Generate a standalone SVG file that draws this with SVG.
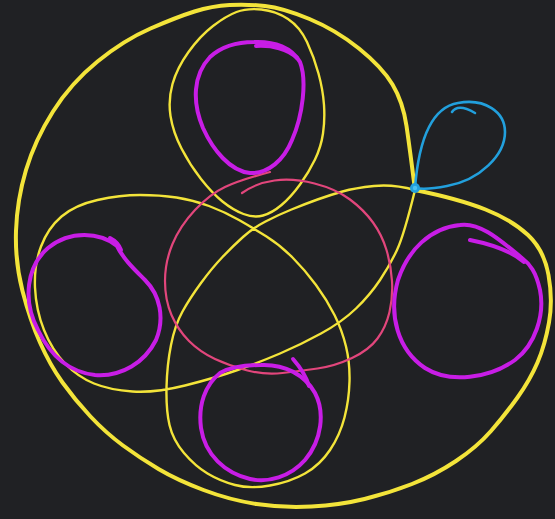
<svg xmlns="http://www.w3.org/2000/svg" width="555" height="519" viewBox="0 0 555 519">
  <style>
    .y { fill: none; stroke: #f3e43a; stroke-linecap: round; stroke-linejoin: round; }
    .outer { stroke-width: 4; }
    .thin { stroke-width: 2.4; }
    .m { fill: none; stroke: #c81de6; stroke-width: 4; stroke-linecap: round; stroke-linejoin: round; }
    .r { fill: none; stroke: #e2467c; stroke-width: 2.2; stroke-linecap: round; }
    .b { fill: none; stroke: #22a0dd; stroke-width: 2.6; stroke-linecap: round; stroke-linejoin: round; }
  </style>
  <rect x="0" y="0" width="555" height="519" fill="#202124"/>

  <g id="outer-circle">
    <path class="y outer" d="M 415 190 Q 459 199 485.5 209.5 Q 512 220 528 235 Q 544 250 548.5 275 Q 553 300 549 322.5 Q 545 345 537.5 362.5 Q 530 380 517.5 397.5 Q 505 415 491 431 Q 477 447 456 461 Q 435 475 412 484 Q 389 493 364.5 499 Q 340 505 311.5 506.5 Q 283 508 256.5 504 Q 230 500 203.5 490 Q 177 480 158.5 469 Q 140 458 123 445.5 Q 106 433 90.5 416.5 Q 75 400 62.5 382.5 Q 50 365 40 342.5 Q 30 320 22.5 291 Q 15 262 16 231 Q 17 200 26 170 Q 35 140 53 111.5 Q 71 83 97.5 61.5 Q 124 40 150.5 28.5 Q 177 17 194.5 11.5 Q 212 6 229.5 5 Q 247 4 265 6 Q 283 8 309.5 19 Q 336 30 359 48.5 Q 382 67 392.5 84.5 Q 403 102 406.5 126 Q 410 150 415 190"/>
  </g>

  <g id="top-oval">
    <path class="y thin" d="M 236.5 12 Q 247 8 261.5 9.5 Q 276 11 288 19 Q 300 27 307 42 Q 314 57 318.5 73.5 Q 323 90 324 105 Q 325 120 323 133.5 Q 321 147 315 159.5 Q 309 172 300 184.5 Q 291 197 281.5 205 Q 272 213 263 215.5 Q 254 218 243.5 214 Q 233 210 222.5 201.5 Q 212 193 201 179 Q 190 165 181.5 148.5 Q 173 132 170.5 116 Q 168 100 172.5 84 Q 177 68 188.5 52 Q 200 36 213 26 Q 226 16 236.5 12 Z"/>
  </g>

  <g id="crossing-loop">
    <path class="y thin" d="M 415 190 Q 404 235 397 250 Q 390 265 380 280 Q 370 295 356 308.5 Q 342 322 321 333.5 Q 300 345 280 353.5 Q 260 362 237.5 370 Q 215 378 185 385.5 Q 155 393 132.5 391.5 Q 110 390 94 383.5 Q 78 377 65 363.5 Q 52 350 44 330 Q 36 310 35 287.5 Q 34 265 41 246.5 Q 48 228 61.5 216.5 Q 75 205 97.5 200 Q 120 195 140 195 Q 160 195 176.5 197.5 Q 193 200 209 206 Q 225 212 239 220 Q 253 228 266.5 236.5 Q 280 245 292.5 257.5 Q 305 270 316 285 Q 327 300 334.5 315 Q 342 330 346 346.5 Q 350 363 349.5 381.5 Q 349 400 344.5 417.5 Q 340 435 330 450 Q 320 465 305 473.5 Q 290 482 270 485.5 Q 250 489 235 485 Q 220 481 207.5 473.5 Q 195 466 184 453 Q 173 440 169.5 425 Q 166 410 166.5 387.5 Q 167 365 171 345 Q 175 325 182.5 311.5 Q 190 298 201 283 Q 212 268 222.5 257 Q 233 246 243 237 Q 253 228 265.5 221.5 Q 278 215 291.5 209.5 Q 305 204 317.5 199.5 Q 330 195 342.5 191.5 Q 355 188 374 186 Q 393 184 415 190"/>
  </g>

  <g id="center-circle">
    <path class="r" d="M 242 193 Q 256 183 274.5 180.5 Q 293 178 314.5 183.5 Q 336 189 350 199.5 Q 364 210 373 222.5 Q 382 235 386.5 250 Q 391 265 392 281 Q 393 297 389.5 312 Q 386 327 377.5 338.5 Q 369 350 352 358 Q 335 366 317.5 368.5 Q 300 371 282.5 373 Q 265 375 247.5 370.5 Q 230 366 215 359 Q 200 352 189 341 Q 178 330 171.5 315 Q 165 300 165 281 Q 165 262 172.5 244 Q 180 226 195 210 Q 210 194 225 187 Q 240 180 270 172"/>
  </g>

  <g id="top-circle">
    <path class="m" d="M 254 42 C 275 41 292 48 300 62 C 307 80 303 115 292 140 C 284 160 268 174 250 173 C 230 171 213 150 203 128 C 192 102 193 75 210 57 C 222 46 238 42 254 42 Z"/>
    <path class="m" d="M 256 46 C 272 45 288 49 297 58"/>
  </g>

  <g id="left-circle">
    <path class="m" d="M 117 246 C 100 232 70 230 48 248 C 27 266 22 300 38 330 C 50 355 68 372 95 375 C 122 377 145 362 156 340 C 165 318 160 295 145 280 C 135 270 124 260 117 246 Z"/>
    <path class="m" d="M 110 238 Q 118 242 121 250"/>
  </g>

  <g id="right-circle">
    <path class="m" d="M 522 258 C 500 240 480 222 460 225 C 430 228 408 250 398 280 C 388 315 398 350 425 368 C 450 384 490 378 515 360 C 535 345 545 315 540 290 C 536 272 530 264 522 258 Z"/>
    <path class="m" d="M 470 240 C 490 244 510 250 524 262"/>
  </g>

  <g id="bottom-circle">
    <path class="m" d="M 261 365 C 285 364 305 375 315 393 C 325 412 322 440 305 460 C 290 477 268 483 250 479 C 225 473 205 455 201 428 C 198 405 205 385 220 373 C 232 366 247 365 261 365 Z"/>
    <path class="m" d="M 293 359 C 300 367 306 376 309 386"/>
  </g>

  <g id="blue-loop">
    <path class="b" d="M 415 188 C 418 150 428 108 458 103 C 485 98 505 112 505 132 C 505 155 480 180 447 186 C 432 189 420 189 415 188 Z"/>
    <path class="b" d="M 452 112 Q 458 103 475 113"/>
    <circle cx="415" cy="188" r="5" fill="#22a0dd"/>
    <circle cx="415" cy="188" r="2.2" fill="#4cc0f0"/>
  </g>
</svg>
